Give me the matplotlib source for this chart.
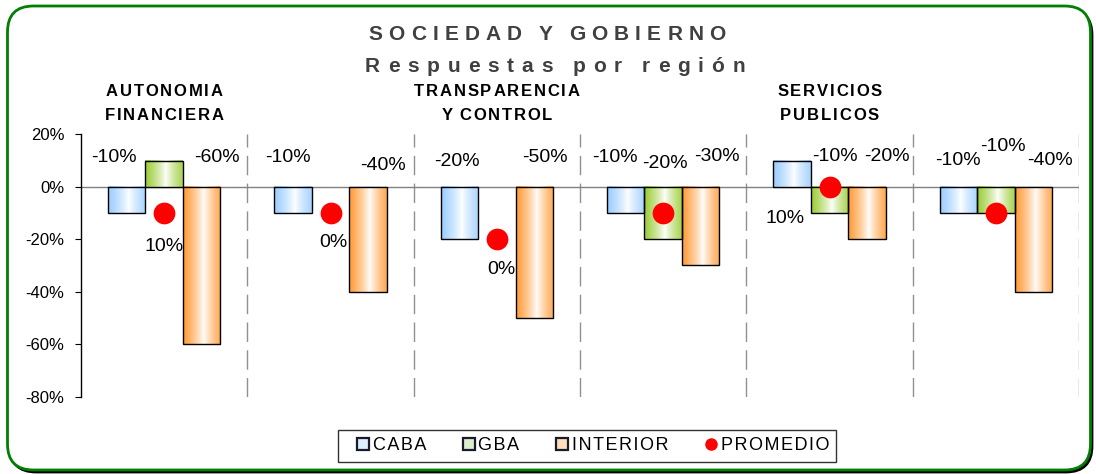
#!/usr/bin/env python3

import numpy as np
import matplotlib as mpl
mpl.use('Agg')
import matplotlib.pyplot as plt
from matplotlib.patches import FancyBboxPatch
from matplotlib.lines import Line2D

plt.rcParams['font.family'] = ['Liberation Sans', 'DejaVu Sans']

# datos (porcentajes)
temas = ['AUTONOMIA\nFINANCIERA', '', 'TRANSPARENCIA\nY CONTROL', '', 'SERVICIOS\nPUBLICOS', '']
caba = [-10, -10, -20, -10, 10, -10]
gba = [10, 0, 0, -20, -10, -10]
interior = [-60, -40, -50, -30, -20, -40]
promedio = [-10, -10, -20, -10, 0, -10]
series = ['CABA', 'GBA', 'INTERIOR']
yticks = [20, 0, -20, -40, -60, -80]

# donde Excel dejo las etiquetas (desplazamiento x respecto de la barra, altura y)
etq_dx = [[-0.077, -0.031, -0.015, -0.066, -0.045, 0.0],
          [0.0, 0.02, 0.03, 0.01, 0.03, 0.04],
          [0.092, 0.09, 0.063, 0.097, 0.12, 0.098]]
etq_y = [[11, 11, 9.5, 11, -11.9, 10.2],
         [-22.9, -21.4, -31.7, 9, 11.4, 15.2],
         [11, 8.3, 11, 11.4, 11.4, 10.2]]

colores = ['#99CCFF', '#99CC33', '#FF9933']
W, H = 1096, 474


def relleno_gradiente(ax, barras, color):
    c = np.array(mpl.colors.to_rgb(color))
    t = np.linspace(0, 1, 64)
    f = np.clip(np.abs(t - 0.55) / 0.55, 0, 1) ** 0.8
    img = (1 - (1 - c)[None, :] * f[:, None])[None, :, :]
    for b in barras:
        x0, y0, w, h = b.get_x(), b.get_y(), b.get_width(), b.get_height()
        if h == 0:
            b.set_visible(False)
            continue
        ax.imshow(img, extent=[x0, x0 + w, min(y0, y0 + h), max(y0, y0 + h)],
                  aspect='auto', zorder=2, interpolation='bilinear')


def texto_espaciado(fig, xc, yc, s, extra, **kw):
    # texto con espaciado entre letras, xc/yc en pixeles desde arriba-izquierda
    r = fig.canvas.get_renderer()
    anchos = []
    for ch in s:
        if ch == ' ':
            anchos.append(kw.get('fontsize', 10) * 0.2 * fig.dpi / 72)
            continue
        t = fig.text(0, 0, ch, **kw)
        anchos.append(t.get_window_extent(r).width)
        t.remove()
    total = sum(anchos) + extra * (len(s) - 1)
    x = xc - total / 2
    for ch, w in zip(s, anchos):
        if ch != ' ':
            fig.text(x / W, 1 - yc / H, ch, ha='left', va='center', **kw)
        x += w + extra


fig = plt.figure(figsize=(W / 100, H / 100), dpi=100)

# marco verde redondeado con sombra
fondo = fig.add_axes([0, 0, 1, 1], zorder=-1)
fondo.set_xlim(0, W)
fondo.set_ylim(H, 0)
fondo.axis('off')
fondo.add_patch(FancyBboxPatch((10, 9), 1082, 463, boxstyle='round,pad=0,rounding_size=26',
                               facecolor='black', edgecolor='black', lw=2))
fondo.add_patch(FancyBboxPatch((7.5, 6), 1083, 464, boxstyle='round,pad=0,rounding_size=26',
                               facecolor='white', edgecolor='#008000', lw=2))

ax = fig.add_axes([81 / W, 1 - 396.7 / H, (1079 - 81) / W, (396.7 - 134.3) / H])
ax.set_facecolor('none')

x = np.arange(len(caba))
ancho = 0.225
for k, vals in enumerate([caba, gba, interior]):
    barras = ax.bar(x + (k - 1) * ancho, vals, ancho, facecolor='none',
                    edgecolor='black', lw=1, zorder=3)
    relleno_gradiente(ax, barras, colores[k])
    for i, v in enumerate(vals):
        ax.text(x[i] + (k - 1) * ancho + etq_dx[k][i], etq_y[k][i], '%d%%' % v,
                ha='center', va='center', fontsize=14, zorder=6)

ax.scatter(x, promedio, s=245, color='#FF0000', zorder=5, linewidths=0)

ax.axhline(0, color='#808080', lw=1, zorder=1.5)
for sep in x + 0.5:
    ax.axvline(sep, color='#909090', lw=1, dashes=(14, 6), zorder=1)

ax.set_xlim(-0.5, 5.5)
ax.set_ylim(-80, 20)
ax.set_yticks(yticks)
ax.set_yticklabels(['%d%%' % v for v in yticks], fontsize=12)
ax.tick_params(axis='y', direction='out', length=4, pad=8)
ax.set_xticks([])
for lado in ['top', 'right', 'bottom']:
    ax.spines[lado].set_visible(False)
ax.spines['left'].set_linewidth(1)

# titulos
texto_espaciado(fig, 547, 35, 'SOCIEDAD Y GOBIERNO', 6.2, fontsize=15,
                fontweight='bold', color='#404040')
texto_espaciado(fig, 555, 66, 'Respuestas por región', 7.8, fontsize=15,
                fontweight='bold', color='#404040')
for i, tema in enumerate(temas):
    if not tema:
        continue
    xc = 81 + (i + 0.5) * (1079 - 81) / len(temas)
    for j, linea in enumerate(tema.split('\n')):
        texto_espaciado(fig, xc, 92 + 23 * j, linea, 1.8, fontsize=12,
                        fontweight='bold', color='black')

# leyenda (con espacio fino entre letras)
manijas = [Line2D([], [], ls='', marker='s', markersize=8, markerfacecolor=c,
                  markeredgecolor='#1A1A2E', markeredgewidth=1.6) for c in ['#DDEEFF', '#DDEECC', '#FFDDBB']]
manijas.append(Line2D([], [], ls='', marker='o', markersize=8, color='#FF0000'))
nombres = ['\u200a'.join(s) for s in series + ['PROMEDIO']]
ley = fig.legend(manijas, nombres, loc='center', bbox_to_anchor=(587 / W, 1 - 446 / H),
                 ncol=4, fontsize=13, frameon=True, fancybox=False, handlelength=2.0,
                 handletextpad=-0.45, columnspacing=1.35, borderpad=0.4)
ley.get_frame().set_edgecolor('black')
ley.get_frame().set_linewidth(1)

plt.savefig('out.png', dpi=100)
plt.close()
